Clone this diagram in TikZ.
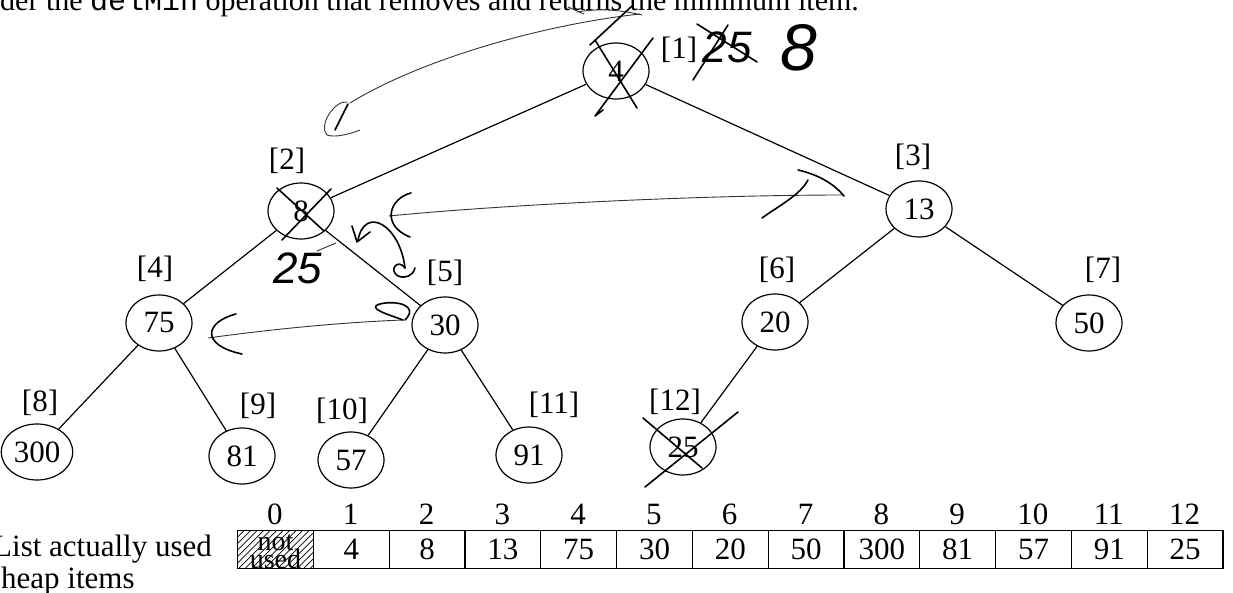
\documentclass[tikz,border=0pt]{standalone}
\usepackage{fontspec}
\usetikzlibrary{shapes.geometric}
\setmainfont{Liberation Serif}
\setmonofont{Liberation Mono}
\newfontfamily\handfont{Liberation Sans}
\newcommand\fsz{\fontsize{31}{34}\selectfont}
\begin{document}
\begin{tikzpicture}[x=1pt,y=-1pt,
  hnode/.style={draw, ellipse, line width=1.2pt, minimum width=66pt, minimum height=56pt, inner xsep=2pt, inner ysep=1pt, font=\fsz},
  lab/.style={font=\fsz, inner sep=0pt},
  tedge/.style={line width=1.2pt},
  pen/.style={line width=1.6pt, line cap=round, line join=round},
  thinpen/.style={line width=0.9pt, line cap=round, line join=round, black!80},
  hand/.style={inner sep=0pt, font=\handfont\itshape\fontsize{44}{46}\selectfont},
  cell/.style={draw, line width=1.2pt, minimum width=75.8pt, minimum height=38pt, inner sep=0pt, font=\fsz, anchor=north west},
  sidelab/.style={inner sep=0pt, anchor=west, font=\fsz}
]
\useasboundingbox (0,0) rectangle (1233,593);

% cut-off first line of text
\node[anchor=base west, inner sep=0pt, font=\fontsize{30}{36}\selectfont] (title) at (0,11) {der the \texttt{delMin} operation that removes and returns the minimum item.};

% tree nodes
\node[hnode] (n1) at (616,71) {4};
\node[hnode] (n2) at (301,211) {8};
\node[hnode] (n3) at (919,209) {13};
\node[hnode] (n4) at (159,323) {75};
\node[hnode] (n5) at (445,325) {30};
\node[hnode] (n6) at (775,322) {20};
\node[hnode] (n7) at (1089,323) {50};
\node[hnode] (n8) at (37,452) {300};
\node[hnode] (n9) at (242,456) {81};
\node[hnode] (n10) at (351,460) {57};
\node[hnode] (n11) at (529,455) {91};
\node[hnode] (n12) at (683,447) {25};

% edges
\draw[tedge] (n1) -- (n2);
\draw[tedge] (n1) -- (n3);
\draw[tedge] (n2) -- (n4);
\draw[tedge] (n2) -- (n5);
\draw[tedge] (n3) -- (n6);
\draw[tedge] (n3) -- (n7);
\draw[tedge] (n4) -- (n8);
\draw[tedge] (n4) -- (n9);
\draw[tedge] (n5) -- (n10);
\draw[tedge] (n5) -- (n11);
\draw[tedge] (n6) -- (n12);

% index labels
\node[lab] (l1) at (679,50) {[1]};
\node[lab] (l2) at (287,161) {[2]};
\node[lab] (l3) at (913,157) {[3]};
\node[lab] (l4) at (155,269) {[4]};
\node[lab] (l5) at (445,273) {[5]};
\node[lab] (l6) at (777,270) {[6]};
\node[lab] (l7) at (1103,270) {[7]};
\node[lab] (l8) at (40,403) {[8]};
\node[lab] (l9) at (258,406) {[9]};
\node[lab] (l10) at (342,411) {[10]};
\node[lab] (l11) at (554,405) {[11]};
\node[lab] (l12) at (675,402) {[12]};

% handwritten annotations
\coordinate (ellA) at (350,103);
\coordinate (ellB) at (640,14);
\draw[thinpen] (ellA) .. controls (420,60) and (540,25) .. (ellB);
\draw[pen] (348,104) -- (335,130);
\draw[thinpen] (347,102) .. controls (335,100) and (318,125) .. (327,135) .. controls (335,138) and (350,134) .. (360,130);
\draw[thinpen] (568,7) -- (584,14);
\draw[thinpen] (577,12) .. controls (600,8) and (620,10) .. (642,15);
\draw[pen] (632,6) -- (590,45);
\draw[pen] (595,40) -- (637,108);
\draw[pen] (653,38) -- (595,116) -- (603,110);

\node[hand] (h25a) at (727,47) {25};
\draw[pen] (697,24) -- (757,62);
\draw[pen] (728,25) -- (693,80);
\node[hand, font=\handfont\itshape\fontsize{66}{68}\selectfont] (h8) at (799,48) {8};

\draw[pen] (331,189) -- (282,240);
\draw[pen] (277,188) -- (324,231);
\node[hand] (h25b) at (298,268) {25};
\draw[thinpen] (317,251) -- (336,243);

\draw[pen] (358,240) .. controls (365,205) and (400,225) .. (405,268);
\draw[pen] (352,226) -- (357,242) -- (370,232);
\draw[pen] (405,268) .. controls (398,258) and (388,270) .. (398,276) .. controls (405,279) and (413,276) .. (415,268);

\draw[thinpen] (389,216) .. controls (500,205) and (700,195) .. (844,195);
\draw[pen] (411,193) .. controls (390,198) and (380,225) .. (410,237);
\draw[pen] (798,170) .. controls (820,175) and (835,185) .. (844,196);
\draw[pen] (762,218) .. controls (780,205) and (800,195) .. (808,180);

\draw[thinpen] (208,338) .. controls (280,328) and (350,322) .. (403,320);
\draw[pen] (236,314) .. controls (205,322) and (200,345) .. (242,354);
\draw[pen] (403,320) .. controls (390,315) and (365,308) .. (380,304) .. controls (395,300) and (420,305) .. (405,320);

\draw[pen] (643,418) -- (702,468);
\draw[pen] (738,412) -- (645,487);

% array
\begin{scope}
\clip (237,530) rectangle (312.8,568);
\foreach \k in {0,...,19} \draw[line width=0.7pt] ({200+6.5*\k},568) -- ++(40,-40);
\end{scope}
\foreach \v [count=\i from 0] in {{},4,8,13,75,30,20,50,300,81,57,91,25} {
  \node[cell] (c\i) at ({237+75.8*\i},530) {\v};
  \node[lab] (i\i) at ({237+75.8*(\i+0.5)},514) {\i};
}
\node[lab, font=\fontsize{28}{30}\selectfont] (nt) at ([yshift=7pt]c0.center) {not};
\node[lab, font=\fontsize{28}{30}\selectfont] (us) at ([yshift=-9pt]c0.center) {used};

\node[sidelab] (t1) at (-7,549) {List actually used};
\node[sidelab] (t2) at (1,581) {heap items};
\end{tikzpicture}
\end{document}
